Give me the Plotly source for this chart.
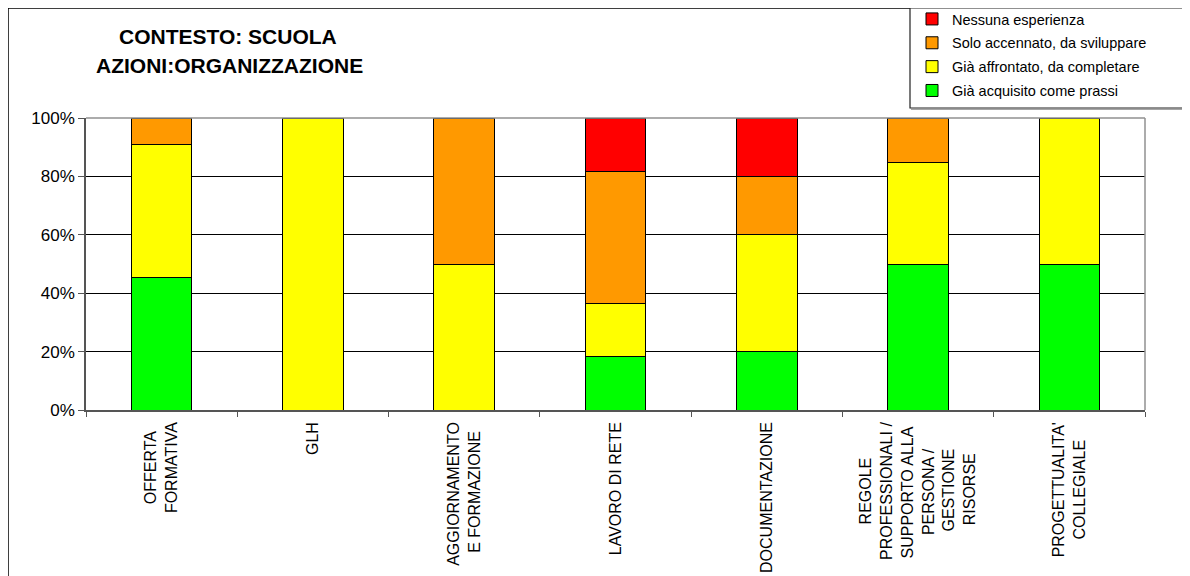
import plotly.graph_objects as go

categories = [
    ["OFFERTA", "FORMATIVA"],
    ["GLH"],
    ["AGGIORNAMENTO", "E FORMAZIONE"],
    ["LAVORO DI RETE"],
    ["DOCUMENTAZIONE"],
    ["REGOLE", "PROFESSIONALI /", "SUPPORTO ALLA", "PERSONA /", "GESTIONE", "RISORSE"],
    ["PROGETTUALITA'", "COLLEGIALE"],
]
acquisito = [45.45, 0, 0, 18.18, 20, 50, 50]
affrontato = [45.45, 100, 50, 18.18, 40, 34.62, 50]
accennato = [9.10, 0, 50, 45.46, 20, 15.38, 0]
nessuna = [0, 0, 0, 18.18, 20, 0, 0]

series = [
    ("Già acquisito come prassi", acquisito, "#00FF00"),
    ("Già affrontato, da completare", affrontato, "#FFFF00"),
    ("Solo accennato, da sviluppare", accennato, "#FF9900"),
    ("Nessuna esperienza", nessuna, "#FF0000"),
]

# approximate Arial/Liberation Sans character widths (em) to centre multi-line rotated labels
W = {"A": .667, "B": .667, "C": .722, "D": .722, "E": .667, "F": .611, "G": .778, "H": .722,
     "I": .278, "L": .556, "M": .833, "N": .722, "O": .778, "P": .667, "R": .722, "S": .667,
     "T": .611, "U": .722, "V": .667, "Z": .611, " ": .278, "/": .278, "'": .191}
def tw(s):
    return sum(W.get(c, .6) for c in s)

def centred(lines):
    m = max(tw(l) for l in lines)
    out = []
    for l in lines:
        n = int(round((m - tw(l)) / 2 / 0.278))
        out.append(l + "\u00a0" * n)
    return "<br>".join(out)

keys = [" ".join(c) for c in categories]
ticktext = [centred(c) for c in categories]

fig = go.Figure()
for i, (name, vals, col) in enumerate(series):
    fig.add_trace(go.Bar(
        name=name, x=keys, y=vals, legendgroup=name,
        legendrank=1000 - i,
        marker=dict(color=col, line=dict(color="black", width=1)),
        width=0.4,
    ))

font = "Liberation Sans, Arial, sans-serif"
L, R, T, B = 78, 45, 110, 166
FW, FH = 1182, 568
PW, PH = FW - L - R, FH - T - B

def px(x):
    return (x - L) / PW

def py(y):
    return (FH - B - y) / PH

fig.update_layout(
    barmode="stack",
    width=FW, height=FH,
    margin=dict(l=L, r=R, t=T, b=B, autoexpand=False),
    paper_bgcolor="white", plot_bgcolor="white",
    font=dict(family=font, size=14, color="black"),
    showlegend=True,
    legend=dict(
        x=px(904), xanchor="left", y=py(-5), yanchor="top",
        borderwidth=0, bgcolor="rgba(0,0,0,0)",
        traceorder="grouped", font=dict(size=14.5), tracegroupgap=2,
    ),
    annotations=[
        dict(text="<b>CONTESTO: SCUOLA</b>", xref="paper", yref="paper",
             x=px(220), y=py(28), xanchor="center", yanchor="middle",
             showarrow=False, font=dict(size=21, family=font)),
        dict(text="<b>AZIONI:ORGANIZZAZIONE</b>", xref="paper", yref="paper",
             x=px(221), y=py(58), xanchor="center", yanchor="middle",
             showarrow=False, font=dict(size=21, family=font)),
    ],
    shapes=[
        # outer chart border (left/top visible)
        dict(type="rect", xref="paper", yref="paper", x0=px(0), x1=px(1400), y0=py(900), y1=py(0),
             line=dict(color="black", width=1.5), layer="below"),
        # legend box
        dict(type="rect", xref="paper", yref="paper", x0=px(902), x1=px(1180), y0=py(100), y1=py(0),
             line=dict(color="#222", width=1.2), fillcolor="white", layer="below"),
        dict(type="line", xref="paper", yref="paper", x0=px(903), x1=px(1181), y0=py(101), y1=py(101),
             line=dict(color="#888", width=1.5), layer="below"),
        # plot border top/right
        dict(type="line", xref="paper", yref="paper", x0=0, x1=1, y0=1, y1=1,
             line=dict(color="#909090", width=1.5), layer="above"),
        dict(type="line", xref="paper", yref="paper", x0=1, x1=1, y0=0, y1=1,
             line=dict(color="#909090", width=1.5), layer="above"),
    ],
)
fig.update_xaxes(
    tickmode="array", tickvals=keys, ticktext=ticktext,
    tickangle=-90, ticks="outside", tickson="boundaries", ticklen=5,
    tickcolor="#555", showline=True, linecolor="#555", linewidth=1.5,
    tickfont=dict(size=16), showgrid=False, ticklabelstandoff=4,
)
fig.update_yaxes(
    range=[0, 100], dtick=20, ticksuffix="%", ticks="outside", ticklen=6,
    tickcolor="#555", showline=True, linecolor="#555", linewidth=1.5,
    showgrid=True, gridcolor="black", gridwidth=1, tickfont=dict(size=17),
    zeroline=False,
)
fig.write_html("out.html")
